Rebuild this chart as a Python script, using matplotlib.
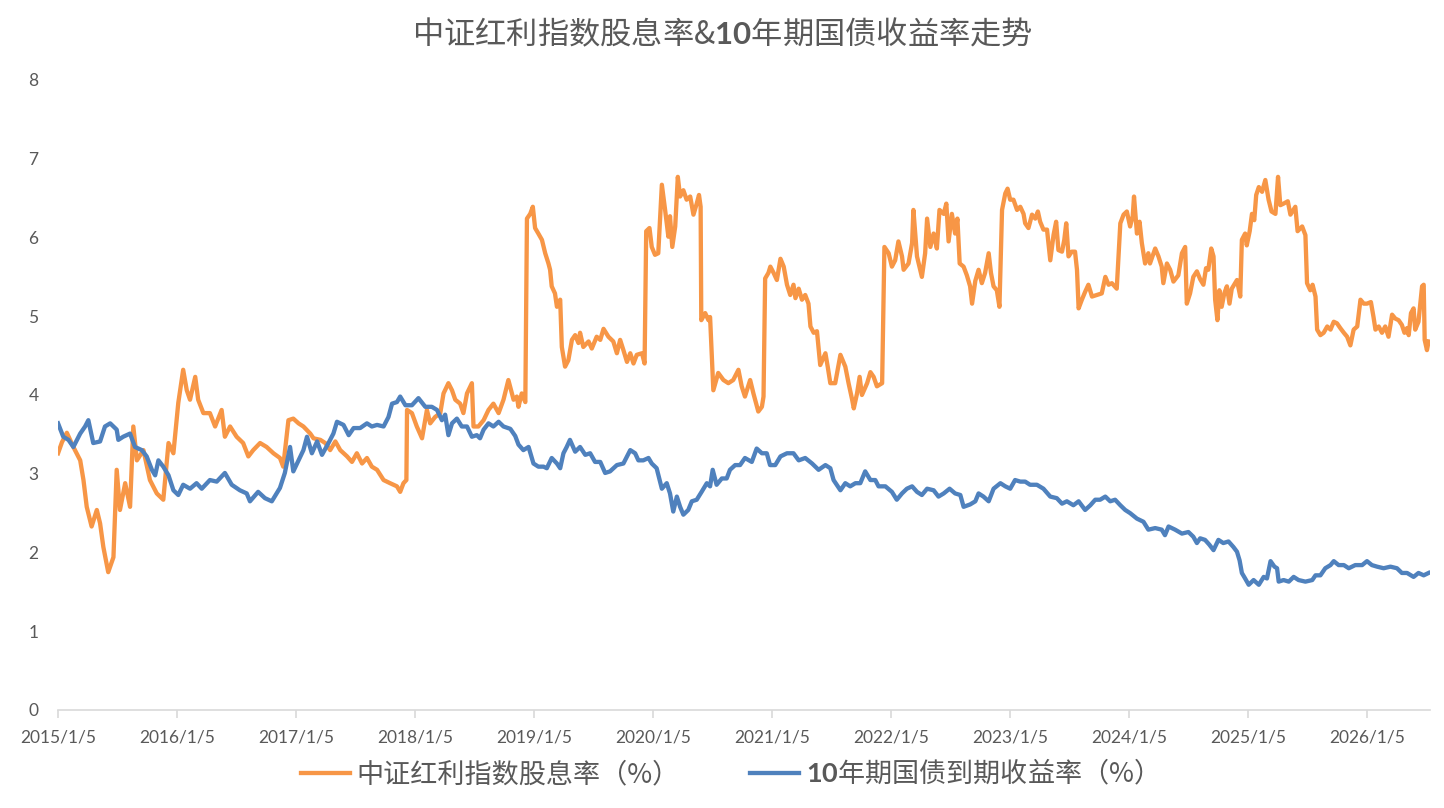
import matplotlib
matplotlib.use("Agg")
import matplotlib.pyplot as plt
import pandas as pd

# 中证红利指数股息率 (%)
div_dates = [
    "2015-01-05", "2015-01-17", "2015-02-01", "2015-02-21", "2015-03-14", "2015-03-24", "2015-04-03",
    "2015-04-18", "2015-05-04", "2015-05-14", "2015-05-24", "2015-06-08", "2015-06-24", "2015-07-04",
    "2015-07-14", "2015-07-30", "2015-08-14", "2015-08-24", "2015-09-04", "2015-09-24", "2015-10-14",
    "2015-11-04", "2015-11-24", "2015-12-10", "2015-12-25",
    "2016-01-09", "2016-01-24", "2016-02-04", "2016-02-14", "2016-03-01", "2016-03-10", "2016-03-26",
    "2016-04-15", "2016-05-01", "2016-05-21", "2016-05-31", "2016-06-16", "2016-07-06", "2016-07-26",
    "2016-08-11", "2016-08-26", "2016-09-16", "2016-10-06", "2016-10-27", "2016-11-16", "2016-11-26",
    "2016-12-12", "2016-12-27",
    "2017-01-12", "2017-01-27", "2017-02-17", "2017-02-27", "2017-03-20", "2017-04-04", "2017-04-19",
    "2017-05-05", "2017-05-20", "2017-06-10", "2017-06-25", "2017-07-10", "2017-07-26", "2017-08-10",
    "2017-08-25", "2017-09-10", "2017-09-30", "2017-10-20", "2017-11-10", "2017-11-20", "2017-11-30",
    "2017-12-09", "2017-12-11", "2017-12-26",
    "2018-01-10", "2018-01-26", "2018-02-10", "2018-02-20", "2018-03-07", "2018-03-23", "2018-04-02",
    "2018-04-17", "2018-04-28", "2018-05-08", "2018-05-23", "2018-06-02", "2018-06-13", "2018-06-28",
    "2018-07-03", "2018-07-18", "2018-08-03", "2018-08-18", "2018-09-02", "2018-09-18", "2018-10-03",
    "2018-10-18", "2018-10-29", "2018-11-03", "2018-11-13", "2018-11-18", "2018-11-28", "2018-12-09",
    "2018-12-14", "2018-12-24",
    "2019-01-01", "2019-01-08", "2019-01-18", "2019-01-29", "2019-02-08", "2019-02-18", "2019-02-23",
    "2019-02-28", "2019-03-10", "2019-03-16", "2019-03-26", "2019-03-31", "2019-04-10", "2019-04-20",
    "2019-05-01", "2019-05-11", "2019-05-21", "2019-05-26", "2019-06-05", "2019-06-21", "2019-07-01",
    "2019-07-16", "2019-07-27", "2019-08-06", "2019-08-21", "2019-09-05", "2019-09-16", "2019-09-26",
    "2019-10-06", "2019-10-17", "2019-10-27", "2019-11-06", "2019-11-16", "2019-12-02", "2019-12-10",
    "2019-12-15", "2019-12-25",
    "2020-01-01", "2020-01-11", "2020-01-21", "2020-02-01", "2020-02-11", "2020-02-21", "2020-02-26",
    "2020-03-04", "2020-03-13", "2020-03-21", "2020-03-28", "2020-04-07", "2020-04-17", "2020-04-28",
    "2020-05-08", "2020-05-18", "2020-05-25", "2020-05-30", "2020-06-01", "2020-06-13", "2020-06-23",
    "2020-06-28", "2020-07-08", "2020-07-23", "2020-08-08", "2020-08-23", "2020-09-07", "2020-09-23",
    "2020-10-03", "2020-10-13", "2020-10-29", "2020-11-08", "2020-11-23", "2020-12-04", "2020-12-09",
    "2020-12-14", "2020-12-24", "2020-12-30",
    "2021-01-09", "2021-01-19", "2021-01-30", "2021-02-09", "2021-02-19", "2021-03-01", "2021-03-11",
    "2021-03-17", "2021-03-27", "2021-04-06", "2021-04-16", "2021-04-26", "2021-05-02", "2021-05-12",
    "2021-05-22", "2021-06-01", "2021-06-17", "2021-06-24", "2021-07-02", "2021-07-17", "2021-08-02",
    "2021-08-17", "2021-08-27", "2021-09-07", "2021-09-12", "2021-09-22", "2021-09-30", "2021-10-07",
    "2021-10-23", "2021-11-02", "2021-11-12", "2021-11-22", "2021-12-08", "2021-12-15", "2021-12-28",
    "2022-01-07", "2022-01-17", "2022-01-27", "2022-02-07", "2022-02-12", "2022-02-27", "2022-03-10",
    "2022-03-14", "2022-03-25", "2022-04-09", "2022-04-19", "2022-04-25", "2022-05-05", "2022-05-15",
    "2022-05-25", "2022-06-02", "2022-06-15", "2022-06-23", "2022-06-30", "2022-07-10", "2022-07-20",
    "2022-07-27", "2022-08-03", "2022-08-15", "2022-08-25", "2022-09-04", "2022-09-10", "2022-09-20",
    "2022-09-30", "2022-10-10", "2022-10-20", "2022-10-31", "2022-11-07", "2022-11-15", "2022-11-25",
    "2022-12-03", "2022-12-11", "2022-12-21", "2022-12-28",
    "2023-01-05", "2023-01-15", "2023-01-26", "2023-02-05", "2023-02-15", "2023-02-20", "2023-03-02",
    "2023-03-13", "2023-03-23", "2023-03-31", "2023-04-07", "2023-04-17", "2023-04-28", "2023-05-08",
    "2023-05-18", "2023-05-26", "2023-06-02", "2023-06-13", "2023-06-20", "2023-06-26", "2023-07-03",
    "2023-07-13", "2023-07-23", "2023-07-29", "2023-08-03", "2023-08-13", "2023-08-23", "2023-09-02",
    "2023-09-13", "2023-09-28", "2023-10-13", "2023-10-24", "2023-11-03", "2023-11-13", "2023-11-28",
    "2023-12-09", "2023-12-19", "2023-12-29",
    "2024-01-08", "2024-01-16", "2024-01-20", "2024-01-29", "2024-02-06", "2024-02-13", "2024-02-23",
    "2024-03-04", "2024-03-09", "2024-03-25", "2024-04-04", "2024-04-14", "2024-04-19", "2024-04-30",
    "2024-05-10", "2024-05-20", "2024-06-04", "2024-06-15", "2024-06-25", "2024-06-30", "2024-07-10",
    "2024-07-20", "2024-07-31", "2024-08-10", "2024-08-20", "2024-08-28", "2024-09-04", "2024-09-13",
    "2024-09-20", "2024-09-25", "2024-10-02", "2024-10-08", "2024-10-15", "2024-10-23", "2024-10-31",
    "2024-11-08", "2024-11-15", "2024-11-25", "2024-12-01", "2024-12-11", "2024-12-16", "2024-12-26",
    "2024-12-31",
    "2025-01-09", "2025-01-16", "2025-01-23", "2025-01-29", "2025-02-06", "2025-02-16", "2025-02-26",
    "2025-03-08", "2025-03-17", "2025-03-29", "2025-04-06", "2025-04-13", "2025-04-23", "2025-05-06",
    "2025-05-14", "2025-05-29", "2025-06-05", "2025-06-19", "2025-06-29", "2025-07-04", "2025-07-14",
    "2025-07-21", "2025-07-30", "2025-08-04", "2025-08-14", "2025-08-24", "2025-09-04", "2025-09-14",
    "2025-09-24", "2025-10-04", "2025-10-14", "2025-10-25", "2025-11-04", "2025-11-14", "2025-11-24",
    "2025-12-05", "2025-12-15", "2025-12-25",
    "2026-01-04", "2026-01-16", "2026-01-24", "2026-01-30", "2026-02-09", "2026-02-19", "2026-03-01",
    "2026-03-11", "2026-03-22", "2026-04-01", "2026-04-11", "2026-04-21", "2026-04-29", "2026-05-07",
    "2026-05-12", "2026-05-19", "2026-05-27", "2026-06-01", "2026-06-11", "2026-06-17", "2026-06-22",
    "2026-06-27", "2026-06-30", "2026-07-07", "2026-07-12",
]
div_yield = [
    3.26, 3.40, 3.52, 3.34, 3.17, 2.92, 2.58,
    2.33, 2.54, 2.37, 2.07, 1.75, 1.94, 3.05,
    2.54, 2.88, 2.58, 3.60, 3.17, 3.30, 2.92,
    2.75, 2.67, 3.39, 3.26,
    3.90, 4.32, 4.06, 3.94, 4.23, 3.94, 3.77,
    3.77, 3.60, 3.81, 3.47, 3.60, 3.47, 3.39,
    3.22, 3.30, 3.39, 3.34, 3.26, 3.20, 3.09,
    3.68, 3.70,
    3.64, 3.60, 3.51, 3.45, 3.43, 3.39, 3.30,
    3.41, 3.30, 3.22, 3.15, 3.26, 3.13, 3.20,
    3.09, 3.05, 2.92, 2.88, 2.84, 2.77, 2.88,
    2.92, 3.81, 3.77,
    3.60, 3.45, 3.81, 3.64, 3.72, 3.77, 4.02,
    4.15, 4.06, 3.94, 3.89, 3.77, 4.02, 4.15,
    3.60, 3.60, 3.68, 3.81, 3.89, 3.77, 3.94,
    4.19, 4.02, 3.94, 3.98, 3.85, 4.02, 3.91,
    6.24, 6.30,
    6.39, 6.12, 6.05, 5.97, 5.80, 5.67, 5.59,
    5.38, 5.29, 5.12, 5.21, 4.61, 4.36, 4.44,
    4.70, 4.76, 4.66, 4.79, 4.61, 4.68, 4.59,
    4.74, 4.70, 4.84, 4.74, 4.68, 4.53, 4.70,
    4.57, 4.42, 4.53, 4.40, 4.51, 4.53, 4.40,
    6.08, 6.12,
    5.88, 5.78, 5.80, 6.67, 6.35, 6.01, 6.27,
    5.88, 6.14, 6.77, 6.52, 6.60, 6.48, 6.52,
    6.29, 6.43, 6.54, 6.39, 4.95, 5.04, 4.95,
    4.99, 4.06, 4.28, 4.19, 4.15, 4.19, 4.32,
    4.11, 3.98, 4.19, 4.02, 3.79, 3.85, 3.98,
    5.48, 5.55, 5.63,
    5.55, 5.46, 5.73, 5.63, 5.40, 5.27, 5.40,
    5.23, 5.35, 5.21, 5.27, 5.16, 4.87, 4.79,
    4.81, 4.38, 4.53, 4.36, 4.15, 4.15, 4.51,
    4.36, 4.15, 3.94, 3.83, 4.02, 4.23, 4.00,
    4.15, 4.29, 4.23, 4.11, 4.15, 5.88, 5.80,
    5.63, 5.71, 5.95, 5.76, 5.59, 5.67, 5.93,
    6.35, 5.76, 5.50, 5.80, 6.24, 5.88, 6.05,
    5.86, 6.35, 6.30, 6.43, 5.95, 6.30, 6.05,
    6.24, 5.67, 5.63, 5.52, 5.38, 5.16, 5.45,
    5.59, 5.42, 5.55, 5.80, 5.55, 5.38, 5.33,
    5.12, 6.35, 6.56, 6.62,
    6.48, 6.48, 6.35, 6.39, 6.30, 6.18, 6.12,
    6.29, 6.24, 6.33, 6.20, 6.10, 6.10, 5.71,
    6.03, 6.20, 5.84, 5.82, 5.97, 6.18, 5.76,
    5.82, 5.82, 5.59, 5.10, 5.21, 5.31, 5.40,
    5.25, 5.27, 5.29, 5.50, 5.40, 5.42, 5.35,
    6.18, 6.29, 6.33,
    6.14, 6.27, 6.52, 6.05, 6.20, 5.93, 5.67,
    5.80, 5.67, 5.86, 5.76, 5.63, 5.42, 5.67,
    5.59, 5.44, 5.52, 5.80, 5.88, 5.16, 5.29,
    5.50, 5.57, 5.47, 5.40, 5.61, 5.59, 5.86,
    5.76, 5.21, 4.95, 5.33, 5.12, 5.29, 5.38,
    5.16, 5.35, 5.42, 5.46, 5.25, 5.97, 6.05,
    5.90,
    6.08, 6.30, 6.22, 6.54, 6.64, 6.58, 6.73,
    6.48, 6.33, 6.30, 6.77, 6.41, 6.43, 6.46,
    6.29, 6.39, 6.08, 6.14, 6.03, 5.42, 5.33,
    5.40, 5.25, 4.83, 4.76, 4.79, 4.87, 4.83,
    4.93, 4.91, 4.85, 4.79, 4.74, 4.63, 4.83,
    4.87, 5.21, 5.16,
    5.16, 5.18, 4.99, 4.83, 4.87, 4.79, 4.87,
    4.74, 5.02, 4.97, 4.95, 4.89, 4.79, 4.85,
    4.76, 5.04, 5.10, 4.83, 4.93, 5.18, 5.38,
    5.40, 4.70, 4.57, 4.68,
]

# 10年期国债到期收益率 (%)
bond_dates = [
    "2015-01-05", "2015-01-21", "2015-02-06", "2015-02-21", "2015-03-14", "2015-03-29", "2015-04-08",
    "2015-04-23", "2015-05-14", "2015-05-29", "2015-06-14", "2015-07-04", "2015-07-09", "2015-07-24",
    "2015-08-14", "2015-08-29", "2015-09-19", "2015-10-04", "2015-10-20", "2015-10-30", "2015-11-09",
    "2015-11-24", "2015-12-10", "2015-12-25",
    "2016-01-09", "2016-01-24", "2016-02-14", "2016-03-05", "2016-03-21", "2016-04-15", "2016-05-06",
    "2016-05-31", "2016-06-21", "2016-07-16", "2016-08-06", "2016-08-16", "2016-09-10", "2016-10-01",
    "2016-10-22", "2016-11-16", "2016-12-01", "2016-12-17", "2016-12-27",
    "2017-01-12", "2017-01-27", "2017-02-07", "2017-02-22", "2017-03-10", "2017-03-25", "2017-04-14",
    "2017-04-29", "2017-05-10", "2017-05-30", "2017-06-15", "2017-06-30", "2017-07-20", "2017-08-10",
    "2017-08-25", "2017-09-10", "2017-09-30", "2017-10-15", "2017-10-26", "2017-11-10", "2017-11-20",
    "2017-12-06", "2017-12-26",
    "2018-01-15", "2018-02-05", "2018-02-25", "2018-03-13", "2018-03-28", "2018-04-07", "2018-04-17",
    "2018-04-28", "2018-05-13", "2018-05-28", "2018-06-13", "2018-06-28", "2018-07-13", "2018-07-23",
    "2018-08-03", "2018-08-18", "2018-09-02", "2018-09-18", "2018-10-03", "2018-10-24", "2018-11-08",
    "2018-11-18", "2018-12-03", "2018-12-19",
    "2019-01-03", "2019-01-18", "2019-02-03", "2019-02-13", "2019-02-28", "2019-03-16", "2019-03-26",
    "2019-04-05", "2019-04-15", "2019-04-25", "2019-05-11", "2019-05-26", "2019-06-11", "2019-06-26",
    "2019-07-11", "2019-07-27", "2019-08-11", "2019-08-26", "2019-09-16", "2019-10-06", "2019-10-27",
    "2019-11-11", "2019-11-21", "2019-12-06", "2019-12-22",
    "2020-01-01", "2020-01-16", "2020-02-01", "2020-02-16", "2020-02-26", "2020-03-07", "2020-03-18",
    "2020-03-28", "2020-04-07", "2020-04-22", "2020-05-03", "2020-05-18", "2020-06-02", "2020-06-18",
    "2020-06-28", "2020-07-06", "2020-07-18", "2020-08-03", "2020-08-18", "2020-08-28", "2020-09-13",
    "2020-09-28", "2020-10-13", "2020-11-03", "2020-11-18", "2020-12-04", "2020-12-19", "2020-12-29",
    "2021-01-14", "2021-01-30", "2021-02-19", "2021-03-11", "2021-03-27", "2021-04-16", "2021-05-07",
    "2021-05-27", "2021-06-17", "2021-07-02", "2021-07-12", "2021-08-02", "2021-08-17", "2021-09-01",
    "2021-09-17", "2021-10-02", "2021-10-17", "2021-11-02", "2021-11-17", "2021-11-27", "2021-12-18",
    "2022-01-07", "2022-01-22", "2022-02-07", "2022-02-22", "2022-03-10", "2022-03-25", "2022-04-09",
    "2022-04-25", "2022-05-15", "2022-05-30", "2022-06-15", "2022-07-03", "2022-07-20", "2022-08-05",
    "2022-08-15", "2022-09-04", "2022-09-20", "2022-09-30", "2022-10-15", "2022-10-31", "2022-11-15",
    "2022-12-06", "2022-12-21",
    "2023-01-05", "2023-01-20", "2023-02-05", "2023-02-20", "2023-03-07", "2023-03-28", "2023-04-17",
    "2023-05-08", "2023-05-28", "2023-06-13", "2023-06-28", "2023-07-18", "2023-08-03", "2023-08-23",
    "2023-09-08", "2023-09-23", "2023-10-08", "2023-10-24", "2023-11-08", "2023-11-23", "2023-12-09",
    "2023-12-24",
    "2024-01-08", "2024-01-29", "2024-02-18", "2024-03-04", "2024-03-25", "2024-04-14", "2024-04-24",
    "2024-05-05", "2024-05-25", "2024-06-15", "2024-07-05", "2024-07-20", "2024-07-31", "2024-08-10",
    "2024-08-25", "2024-09-07", "2024-09-20", "2024-10-05", "2024-10-20", "2024-11-05", "2024-11-20",
    "2024-12-01", "2024-12-09", "2024-12-16", "2024-12-26",
    "2025-01-06", "2025-01-21", "2025-02-06", "2025-02-21", "2025-03-03", "2025-03-14", "2025-03-26",
    "2025-04-03", "2025-04-08", "2025-04-23", "2025-05-09", "2025-05-24", "2025-06-08", "2025-06-29",
    "2025-07-20", "2025-07-30", "2025-08-14", "2025-08-29", "2025-09-14", "2025-09-24", "2025-10-09",
    "2025-10-25", "2025-11-09", "2025-11-29", "2025-12-20",
    "2026-01-04", "2026-01-19", "2026-02-04", "2026-02-24", "2026-03-17", "2026-04-06", "2026-04-21",
    "2026-05-07", "2026-05-27", "2026-06-11", "2026-06-27", "2026-07-12",
]
bond_yield = [
    3.64, 3.47, 3.43, 3.34, 3.51, 3.60, 3.68,
    3.39, 3.41, 3.60, 3.64, 3.56, 3.43, 3.47,
    3.51, 3.34, 3.30, 3.22, 3.05, 2.98, 3.17,
    3.09, 2.98, 2.79,
    2.73, 2.86, 2.81, 2.88, 2.81, 2.92, 2.90,
    3.01, 2.86, 2.79, 2.75, 2.65, 2.77, 2.69,
    2.65, 2.82, 3.01, 3.34, 3.03,
    3.17, 3.30, 3.47, 3.26, 3.41, 3.24, 3.39,
    3.51, 3.66, 3.62, 3.49, 3.58, 3.58, 3.64,
    3.60, 3.62, 3.60, 3.72, 3.89, 3.91, 3.98,
    3.87, 3.87,
    3.96, 3.85, 3.85, 3.81, 3.68, 3.75, 3.49,
    3.64, 3.70, 3.60, 3.60, 3.47, 3.49, 3.45,
    3.56, 3.64, 3.60, 3.66, 3.60, 3.57, 3.48,
    3.37, 3.30, 3.34,
    3.13, 3.09, 3.09, 3.07, 3.20, 3.13, 3.07,
    3.26, 3.34, 3.43, 3.28, 3.34, 3.24, 3.26,
    3.15, 3.15, 3.01, 3.03, 3.11, 3.13, 3.30,
    3.26, 3.17, 3.17, 3.20,
    3.13, 3.07, 2.81, 2.88, 2.75, 2.52, 2.71,
    2.58, 2.48, 2.54, 2.65, 2.67, 2.77, 2.88,
    2.84, 3.05, 2.86, 2.94, 2.94, 3.05, 3.11,
    3.11, 3.20, 3.15, 3.32, 3.26, 3.26, 3.11,
    3.11, 3.22, 3.26, 3.26, 3.17, 3.20, 3.13,
    3.05, 3.11, 3.07, 2.92, 2.79, 2.88, 2.84,
    2.88, 2.88, 3.03, 2.92, 2.92, 2.84, 2.84,
    2.77, 2.67, 2.75, 2.81, 2.84, 2.77, 2.73,
    2.81, 2.79, 2.71, 2.75, 2.81, 2.75, 2.73,
    2.58, 2.61, 2.65, 2.75, 2.71, 2.65, 2.81,
    2.88, 2.84,
    2.81, 2.92, 2.90, 2.90, 2.86, 2.86, 2.81,
    2.71, 2.69, 2.62, 2.65, 2.60, 2.65, 2.54,
    2.60, 2.67, 2.67, 2.71, 2.65, 2.67, 2.60,
    2.54,
    2.50, 2.43, 2.39, 2.29, 2.31, 2.29, 2.22,
    2.33, 2.29, 2.24, 2.26, 2.20, 2.12, 2.18,
    2.16, 2.10, 2.03, 2.16, 2.12, 2.14, 2.07,
    2.01, 1.90, 1.74, 1.67,
    1.59, 1.65, 1.59, 1.69, 1.67, 1.89, 1.82,
    1.80, 1.63, 1.65, 1.63, 1.69, 1.65, 1.63,
    1.65, 1.71, 1.71, 1.80, 1.84, 1.89, 1.84,
    1.84, 1.80, 1.84, 1.84,
    1.89, 1.84, 1.82, 1.80, 1.82, 1.80, 1.74,
    1.74, 1.69, 1.74, 1.71, 1.74,
]

# the digits are set in bold in the original, hence the mathtext pieces
div_label = "中证红利指数股息率（%）"
bond_label = r"$\mathbf{10}$年期国债到期收益率（%）"
title = r"中证红利指数股息率&$\mathbf{10}$年期国债收益率走势"
tick_years = list(range(2015, 2027))

ORANGE = "#F79646"
BLUE = "#4F81BD"
GREY_TXT = "#595959"
CJK = ["Noto Sans CJK SC", "DejaVu Sans"]

plt.rcParams["mathtext.fontset"] = "custom"
plt.rcParams["mathtext.bf"] = "Lato:bold"

fig = plt.figure(figsize=(14.44, 8.08), dpi=100)
ax = fig.add_axes([0.0402, 0.1213, 0.9498, 0.7797])

ax.plot(pd.to_datetime(div_dates), div_yield, color=ORANGE, lw=3.1,
        solid_joinstyle="round", label=div_label)
ax.plot(pd.to_datetime(bond_dates), bond_yield, color=BLUE, lw=3.1,
        solid_joinstyle="round", label=bond_label)

ax.set_ylim(0, 8)
ax.set_yticks(range(0, 9))
ax.set_xlim(pd.Timestamp("2015-01-05"), pd.Timestamp("2026-07-15"))
ticks = [pd.Timestamp(f"{y}-01-05") for y in tick_years]
ax.set_xticks(ticks)
ax.set_xticklabels([f"{y}/1/5" for y in tick_years])

for s in ["top", "right", "left"]:
    ax.spines[s].set_visible(False)
ax.spines["bottom"].set_color("#D9D9D9")
ax.spines["bottom"].set_linewidth(1.2)
ax.tick_params(axis="x", colors="#D9D9D9", length=6, width=1.2, labelcolor=GREY_TXT,
               labelsize=12.5, pad=8)
ax.tick_params(axis="y", length=0, labelcolor=GREY_TXT, labelsize=12.5, pad=14)
for lbl in ax.get_xticklabels() + ax.get_yticklabels():
    lbl.set_family(["Lato", "DejaVu Sans"])

fig.text(0.5, 0.957, title, ha="center", va="center", fontsize=22.5,
         color=GREY_TXT, family=CJK)

leg = fig.legend(loc="lower center", bbox_to_anchor=(0.5, -0.006), ncol=2, frameon=False,
                 handlelength=1.8, columnspacing=2.6, handletextpad=0.25,
                 prop={"family": CJK, "size": 19.5})
for t in leg.get_texts():
    t.set_color(GREY_TXT)

fig.savefig("out.png", dpi=100)
